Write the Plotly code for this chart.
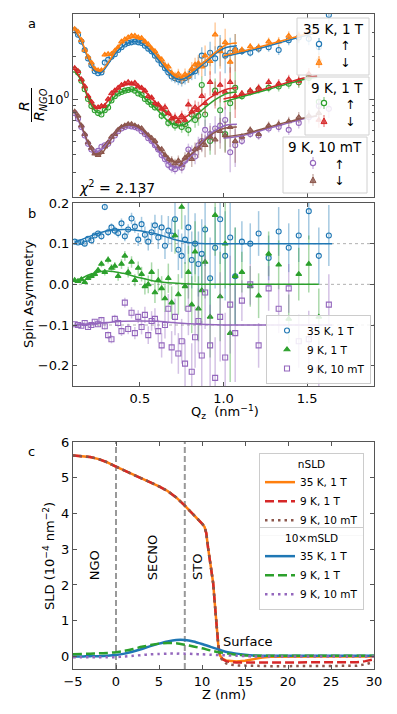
import math
import plotly.graph_objects as go

# ---------------- data: panel a (reflectivity normalised to NGO) ----------------
q_refl = [0.11, 0.13, 0.15, 0.17, 0.19, 0.21, 0.23, 0.25, 0.27, 0.29,
          0.31, 0.33, 0.35, 0.37, 0.39, 0.41, 0.43, 0.45, 0.47, 0.49,
          0.51, 0.53, 0.55, 0.57, 0.59, 0.61, 0.63, 0.65, 0.67, 0.69,
          0.71, 0.73, 0.75, 0.77, 0.79, 0.81, 0.83, 0.85, 0.87, 0.89,
          0.92, 0.95, 0.98, 1.01, 1.04, 1.07,
          1.11, 1.16, 1.21, 1.27, 1.33, 1.39, 1.45, 1.51, 1.57, 1.63]

refl_35K_up = [3.09, 2.88, 2.57, 2.24, 1.95, 1.74, 1.58, 1.53, 1.55, 1.82,
               1.91, 2.00, 2.09, 2.24, 2.34, 2.45, 2.51, 2.54, 2.57, 2.54,
               2.51, 2.40, 2.29, 2.19, 2.04, 1.91, 1.78, 1.66, 1.55, 1.45,
               1.41, 1.38, 1.35, 1.41, 1.45, 1.55, 1.58, 1.74, 2.04, 1.78,
               2.14, 1.95, 2.29, 2.04, 2.14, 2.24,
               2.19, 2.14, 2.29, 2.34, 2.24, 2.63, 2.75, 2.69, 2.34, 3.98]
refl_35K_dn = [3.16, 3.02, 2.63, 2.24, 2.00, 1.82, 1.64, 1.60, 1.60, 2.07,
               2.09, 2.09, 2.21, 2.34, 2.57, 2.66, 2.75, 2.82, 2.82, 2.75,
               2.72, 2.57, 2.45, 2.29, 2.19, 2.00, 1.91, 1.74, 1.70, 1.53,
               1.45, 1.51, 1.40, 1.50, 1.45, 1.64, 1.76, 1.80, 1.70, 2.04,
               1.86, 2.88, 2.19, 2.54, 1.84, 2.24,
               2.24, 2.37, 2.34, 2.57, 2.57, 2.82, 2.82, 2.95, 1.91, None]
refl_9K1T_up = [1.62, 1.55, 1.35, 1.175, 1.0, 0.891, 0.832, 0.794, 0.776, 0.832,
                0.871, 0.977, 1.047, 1.096, 1.122, 1.148, 1.161, 1.175, 1.148, 1.096,
                1.072, 1.0, 0.955, 0.912, 0.871, 0.871, 0.759, 0.794, 0.676, 0.692,
                0.646, 0.676, 0.631, 0.661, 0.603, 0.776, 0.708, 0.759, 1.259, 0.776,
                0.501, 1.148, 0.832, 0.562, 0.933, 1.202,
                1.047, 1.122, 1.175, 1.202, 1.23, 1.288, 1.318, 1.413, 0.955, None]
refl_9K1T_dn = [1.66, 1.58, 1.38, 1.23, 1.05, 0.955, 0.871, 0.871, 0.891, 0.891,
                1.0, 1.096, 1.148, 1.202, 1.259, 1.288, 1.318, 1.288, 1.303, 1.23,
                1.202, 1.148, 1.047, 1.023, 0.933, 0.912, 0.851, 0.871, 0.794, 0.724,
                0.741, 0.692, 0.759, 0.708, 0.912, 0.813, 0.871, 0.832, 1.047, 0.933,
                1.318, 1.096, 1.259, 1.122, 1.318, 1.047,
                1.096, 1.148, 1.202, 1.318, 1.288, 1.38, 1.349, 1.514, 0.708, None]
refl_9K10mT_up = [0.794, 0.724, 0.631, 0.550, 0.479, 0.437, 0.417, 0.427, 0.457, 0.468,
                  0.479, 0.513, 0.550, 0.589, 0.617, 0.631, 0.646, 0.638, 0.631, 0.617,
                  0.589, 0.562, 0.525, 0.501, 0.468, 0.437, 0.398, 0.372, 0.339, 0.324,
                  0.316, 0.339, 0.324, 0.363, 0.437, 0.417, 0.389, 0.468, 0.501, 0.603,
                  0.562, 0.617, 0.646, 0.708, 0.417, 0.468,
                  0.501, 0.562, 0.550, 0.617, 0.631, 0.603, 0.676, 0.741, 0.891, 0.851]
refl_9K10mT_dn = [0.813, 0.759, 0.646, 0.562, 0.490, 0.447, 0.407, 0.398, 0.417, 0.457,
                  0.490, 0.537, 0.562, 0.603, 0.631, 0.646, 0.661, 0.661, 0.646, 0.631,
                  0.617, 0.575, 0.550, 0.525, 0.501, 0.447, 0.437, 0.398, 0.372, 0.363,
                  0.347, 0.363, 0.339, 0.380, 0.398, 0.372, 0.437, 0.447, 0.490, 0.468,
                  0.537, 0.513, 0.589, 0.550, 0.631, 0.501,
                  0.537, 0.603, 0.562, 0.646, 0.661, 0.692, 0.741, 0.759, 0.794, None]
# relative uncertainty of the reflectivity points
refl_rel_err = [0.02, 0.02, 0.02, 0.02, 0.02, 0.025, 0.025, 0.025, 0.03, 0.03,
                0.03, 0.03, 0.03, 0.03, 0.03, 0.03, 0.03, 0.03, 0.035, 0.035,
                0.04, 0.04, 0.045, 0.05, 0.05, 0.06, 0.06, 0.07, 0.07, 0.08,
                0.08, 0.09, 0.09, 0.10, 0.10, 0.12, 0.12, 0.15, 0.15, 0.18,
                0.20, 0.22, 0.25, 0.25, 0.28, 0.30,
                0.06, 0.06, 0.07, 0.07, 0.08, 0.08, 0.09, 0.10, 0.12, 0.14]

# fitted curves (two q ranges)
q_fit1 = [0.11, 0.15, 0.19, 0.23, 0.27, 0.31, 0.35, 0.39, 0.43, 0.47, 0.51, 0.55,
          0.59, 0.63, 0.67, 0.71, 0.75, 0.79, 0.83, 0.87, 0.92, 0.97, 1.02, 1.08]
q_fit2 = [1.0, 1.12, 1.24, 1.36, 1.48, 1.56]
fit1_35K_up = [3.09, 2.57, 1.95, 1.58, 1.55, 1.78, 2.09, 2.34, 2.51, 2.57, 2.51, 2.29,
               2.04, 1.78, 1.55, 1.41, 1.38, 1.45, 1.58, 1.74, 1.95, 2.19, 2.34, 2.40]
fit2_35K_up = [2.00, 2.16, 2.34, 2.57, 2.82, 2.95]
fit1_35K_dn = [3.16, 2.63, 2.00, 1.64, 1.60, 1.82, 2.16, 2.51, 2.69, 2.75, 2.69, 2.43,
               2.14, 1.86, 1.62, 1.48, 1.44, 1.51, 1.64, 1.78, 2.00, 2.24, 2.45, 2.51]
fit2_35K_dn = [2.04, 2.21, 2.40, 2.63, 2.88, 3.02]
fit1_9K1T_up = [1.60, 1.35, 1.012, 0.832, 0.794, 0.891, 1.047, 1.122, 1.161, 1.161, 1.072, 0.955,
                0.871, 0.776, 0.692, 0.653, 0.646, 0.684, 0.750, 0.832, 0.933, 1.023, 1.096, 1.122]
fit2_9K1T_up = [0.955, 1.047, 1.148, 1.259, 1.38, 1.429]
fit1_9K1T_dn = [1.62, 1.38, 1.047, 0.871, 0.871, 0.977, 1.122, 1.23, 1.274, 1.259, 1.189, 1.072,
                0.955, 0.851, 0.776, 0.733, 0.724, 0.767, 0.832, 0.912, 1.023, 1.109, 1.175, 1.202]
fit2_9K1T_dn = [1.0, 1.072, 1.175, 1.288, 1.413, 1.462]
fit1_9K10mT_up = [0.794, 0.631, 0.479, 0.417, 0.437, 0.490, 0.562, 0.617, 0.646, 0.631, 0.589, 0.525,
                  0.457, 0.398, 0.347, 0.324, 0.331, 0.372, 0.427, 0.490, 0.562, 0.617, 0.653, 0.661]
fit2_9K10mT_up = [0.525, 0.550, 0.603, 0.661, 0.724, 0.759]
fit1_9K10mT_dn = [0.813, 0.646, 0.490, 0.407, 0.407, 0.479, 0.562, 0.631, 0.653, 0.646, 0.610, 0.550,
                  0.490, 0.427, 0.380, 0.355, 0.359, 0.389, 0.427, 0.479, 0.550, 0.596, 0.624, 0.631]
fit2_9K10mT_dn = [0.537, 0.562, 0.617, 0.676, 0.733, 0.759]

# ---------------- data: panel b (spin asymmetry, offset by 0.1) ----------------
sa_35K = [0.105, 0.103, 0.104, 0.100, 0.112, 0.108, 0.120, 0.125, 0.118, 0.190,
          0.128, 0.140, 0.132, 0.126, 0.150, 0.118, 0.135, 0.162, 0.142, 0.110,
          0.148, 0.122, 0.105, 0.128, 0.145, 0.115, 0.140, 0.095, 0.132, 0.120,
          0.160, 0.085, 0.070, 0.110, 0.140, 0.060, 0.100, 0.050, 0.075, 0.135,
          0.015, 0.090, 0.160, 0.070, 0.115, 0.020,
          0.105, 0.100, 0.125, 0.065, 0.130, 0.090, 0.120, 0.180, 0.070, 0.120]
sa_9K1T = [0.010, 0.008, 0.012, 0.005, 0.015, 0.020, 0.025, 0.035, 0.050, 0.030,
           0.060, 0.040, 0.045, 0.020, 0.050, 0.070, 0.030, 0.055, 0.010, 0.040,
           0.025, -0.005, 0.000, 0.030, -0.020, 0.010, -0.010, -0.035, 0.015, -0.045,
           0.120, -0.025, 0.190, -0.005, 0.030, -0.050, 0.080, -0.060, -0.015, 0.055,
           -0.080, 0.170, -0.030, 0.100, -0.120, 0.020,
           0.030, -0.005, -0.028, 0.075, 0.048, -0.085, 0.025, 0.050, -0.080, None]
sa_9K10mT = [-0.098, -0.100, -0.102, -0.095, -0.105, -0.100, -0.092, -0.098, -0.088, -0.103,
             -0.125, -0.135, -0.085, -0.095, -0.115, -0.045, -0.110, -0.070, -0.120, -0.080,
             -0.105, -0.075, -0.125, -0.090, -0.085, -0.115, -0.150, -0.100, -0.060, -0.155,
             -0.080, -0.170, -0.140, -0.195, -0.060, -0.215, -0.130, -0.090, -0.175, -0.020,
             -0.150, -0.230, -0.080, -0.180, -0.050, -0.120,
             -0.040, 0.000, -0.150, -0.010, -0.060, -0.010, -0.140, -0.135, -0.210, -0.050]
sa_err = [0.004, 0.004, 0.005, 0.005, 0.005, 0.006, 0.006, 0.007, 0.008, 0.008,
          0.009, 0.010, 0.010, 0.011, 0.012, 0.012, 0.013, 0.014, 0.015, 0.016,
          0.018, 0.020, 0.022, 0.024, 0.026, 0.028, 0.030, 0.033, 0.036, 0.040,
          0.045, 0.050, 0.055, 0.060, 0.065, 0.070, 0.075, 0.080, 0.085, 0.090,
          0.10, 0.10, 0.11, 0.11, 0.12, 0.12,
          0.05, 0.05, 0.055, 0.055, 0.06, 0.06, 0.065, 0.07, 0.07, 0.075]
q_safit = [0.11, 0.2, 0.3, 0.4, 0.5, 0.6, 0.7, 0.8, 0.9, 1.0, 1.2, 1.4, 1.65]
q_safit_g = [0.11, 0.2, 0.3, 0.4, 0.5, 0.6, 0.7, 0.8, 0.9, 1.0, 1.2, 1.4, 1.57]
safit_35K = [0.103, 0.118, 0.131, 0.135, 0.132, 0.124, 0.111, 0.102, 0.100, 0.100, 0.100, 0.100, 0.100]
safit_9K1T = [0.005, 0.024, 0.033, 0.027, 0.016, 0.007, 0.003, 0.001, 0.0, 0.0, 0.0, 0.0, 0.0]
safit_9K10mT = [-0.100, -0.097, -0.094, -0.091, -0.090, -0.091, -0.094, -0.097, -0.099, -0.100, -0.100, -0.100, -0.100]
sa_offsets = [0.1, 0.0, -0.1]

# ---------------- data: panel c (SLD depth profiles) ----------------
z_n = [-5, -4, -3, -2, -1, 0, 1, 2, 3, 4, 5, 6, 7, 8, 9, 9.5, 10, 10.3, 10.5, 10.7,
       11.0, 11.3, 11.5, 11.7, 11.9, 12.1, 12.4, 12.8, 13.3, 14, 15, 16, 17, 18, 20,
       22, 24, 26, 28, 29, 30]
nsld_35K = [5.62, 5.61, 5.58, 5.52, 5.43, 5.31, 5.20, 5.09, 4.98, 4.88, 4.76, 4.63, 4.45, 4.22, 3.98,
            3.85, 3.72, 3.62, 3.45, 3.05, 2.50, 2.05, 1.45, 0.75, 0.30, 0.03, -0.07, -0.11, -0.13, -0.14,
            -0.12, -0.07, -0.03, -0.01, 0.0, 0.0, 0.0, 0.0, 0.0, 0.0, 0.0]
nsld_9K1T = [5.62, 5.61, 5.58, 5.52, 5.43, 5.31, 5.20, 5.09, 4.98, 4.88, 4.76, 4.63, 4.45, 4.22, 3.98,
             3.85, 3.72, 3.62, 3.45, 3.05, 2.50, 2.05, 1.45, 0.75, 0.30, 0.02, -0.08, -0.13, -0.16, -0.17,
             -0.17, -0.17, -0.17, -0.17, -0.17, -0.17, -0.17, -0.17, -0.16, -0.13, -0.08]
nsld_9K10mT = [5.62, 5.61, 5.58, 5.52, 5.43, 5.31, 5.20, 5.09, 4.98, 4.88, 4.76, 4.63, 4.45, 4.22, 3.98,
               3.85, 3.72, 3.62, 3.45, 3.05, 2.50, 2.05, 1.45, 0.75, 0.30, 0.0, -0.12, -0.19, -0.23, -0.25,
               -0.26, -0.27, -0.27, -0.27, -0.27, -0.27, -0.27, -0.27, -0.26, -0.22, -0.15]
z_m = [-5, -4, -3, -2, -1, 0, 1, 2, 3, 4, 5, 6, 7, 8, 9, 10, 11, 12, 13, 14, 15, 16, 18, 20, 25, 30]
msld_35K = [0.0, 0.0, 0.01, 0.01, 0.02, 0.04, 0.08, 0.14, 0.21, 0.29, 0.36, 0.42, 0.46, 0.46, 0.42,
            0.35, 0.27, 0.19, 0.12, 0.08, 0.05, 0.03, 0.02, 0.02, 0.02, 0.02]
msld_9K1T = [0.06, 0.07, 0.08, 0.09, 0.10, 0.12, 0.16, 0.21, 0.27, 0.32, 0.36, 0.38, 0.37, 0.33, 0.28,
             0.23, 0.17, 0.12, 0.08, 0.05, 0.03, 0.02, 0.02, 0.02, 0.02, 0.02]
msld_9K10mT = [-0.02, -0.02, -0.02, -0.02, -0.02, -0.02, 0.0, 0.02, 0.04, 0.06, 0.07, 0.08, 0.08, 0.08, 0.07,
               0.06, 0.05, 0.04, 0.03, 0.02, 0.01, 0.0, 0.0, 0.0, 0.0, 0.0]
layer_bounds = [0, 8]
layer_labels = ["NGO", "SECNO", "STO"]
layer_label_z = [-2.55, 4.2, 9.4]

labels = ["35 K, 1 T", "9 K, 1 T", "9 K, 10 mT"]
spin_labels = ["\u2191", "\u2193"]

# ---------------- styling ----------------
W, H = 397, 714
FONT = "DejaVu Sans"
C = dict(blue="#1f77b4", orange="#ff7f0e", green="#2ca02c", red="#d62728",
         purple="#9467bd", brown="#8c564b", grey="#999999")


def rgba(hexc, a):
    h = hexc.lstrip("#")
    return "rgba(%d,%d,%d,%.2f)" % (int(h[0:2], 16), int(h[2:4], 16), int(h[4:6], 16), a)


def px(xp):
    return xp / W


def py(yp):
    return 1 - yp / H


fig = go.Figure()

# ---- panel a data ----
refl_sets = [
    (refl_35K_up, C["blue"], "circle-open", labels[0] + " " + spin_labels[0]),
    (refl_35K_dn, C["orange"], "triangle-up", labels[0] + " " + spin_labels[1]),
    (refl_9K1T_up, C["green"], "circle-open", labels[1] + " " + spin_labels[0]),
    (refl_9K1T_dn, C["red"], "triangle-up", labels[1] + " " + spin_labels[1]),
    (refl_9K10mT_up, C["purple"], "circle-open", labels[2] + " " + spin_labels[0]),
    (refl_9K10mT_dn, C["brown"], "triangle-up", labels[2] + " " + spin_labels[1]),
]
for vals, col, sym, nm in refl_sets:
    err = [None if v is None else v * r for v, r in zip(vals, refl_rel_err)]
    fig.add_trace(go.Scatter(
        x=q_refl, y=vals, mode="markers", name=nm, showlegend=False,
        marker=dict(symbol=sym, size=5, color=col if "open" in sym else rgba(col, 0.75),
                    line=dict(color=col, width=1.1)),
        error_y=dict(type="data", array=err, color=rgba(col, 0.4), thickness=1.5, width=0),
        xaxis="x", yaxis="y"))

fits = [
    (fit1_35K_up, fit2_35K_up, C["blue"]),
    (fit1_35K_dn, fit2_35K_dn, C["orange"]),
    (fit1_9K1T_up, fit2_9K1T_up, C["green"]),
    (fit1_9K1T_dn, fit2_9K1T_dn, C["red"]),
    (fit1_9K10mT_up, fit2_9K10mT_up, C["purple"]),
    (fit1_9K10mT_dn, fit2_9K10mT_dn, C["brown"]),
]
for f1, f2, col in fits:
    for qq, ff in ((q_fit1, f1), (q_fit2, f2)):
        fig.add_trace(go.Scatter(x=qq, y=ff, mode="lines", showlegend=False,
                                 line=dict(color=col, width=1.5, shape="spline", smoothing=0.8),
                                 hoverinfo="skip", xaxis="x", yaxis="y"))

# ---- panel b ----
sa_sets = [
    (sa_35K, C["blue"], "circle-open", labels[0]),
    (sa_9K1T, C["green"], "triangle-up", labels[1]),
    (sa_9K10mT, C["purple"], "square-open", labels[2]),
]
for vals, col, sym, nm in sa_sets:
    fig.add_trace(go.Scatter(
        x=q_refl, y=vals, mode="markers", name=nm, legend="legend",
        marker=dict(symbol=sym, size=5, color=col, line=dict(color=col, width=1.1)),
        error_y=dict(type="data", array=sa_err, color=rgba(col, 0.4), thickness=1.5, width=0),
        xaxis="x2", yaxis="y2"))
for qq, ff, col in ((q_safit, safit_35K, C["blue"]), (q_safit_g, safit_9K1T, C["green"]),
                    (q_safit, safit_9K10mT, C["purple"])):
    fig.add_trace(go.Scatter(x=qq, y=ff, mode="lines", showlegend=False,
                             line=dict(color=col, width=1.5, shape="spline", smoothing=0.8),
                             hoverinfo="skip", xaxis="x2", yaxis="y2"))

# ---- panel c ----
for yy, col, dash, nm in ((nsld_35K, C["orange"], "solid", labels[0]),
                          (nsld_9K1T, C["red"], "9px,4px", labels[1]),
                          (nsld_9K10mT, C["brown"], "2.5px,4px", labels[2])):
    fig.add_trace(go.Scatter(x=z_n, y=yy, mode="lines", name=nm, legend="legend2",
                             line=dict(color=col, width=2.5, dash=dash),
                             xaxis="x3", yaxis="y3"))
for yy, col, dash, nm in ((msld_35K, C["blue"], "solid", labels[0]),
                          (msld_9K1T, C["green"], "9px,4px", labels[1]),
                          (msld_9K10mT, C["purple"], "2.5px,4px", labels[2])):
    fig.add_trace(go.Scatter(x=z_m, y=yy, mode="lines", name=nm, legend="legend3",
                             line=dict(color=col, width=2.5, dash=dash, shape="spline", smoothing=0.6),
                             xaxis="x3", yaxis="y3"))

# ---------------- layout ----------------
AX = dict(showline=True, linecolor="#555555", linewidth=1, mirror="allticks",
          ticks="inside", tickcolor="#555555", ticklen=4, tickwidth=1,
          showgrid=False, zeroline=False, automargin=False,
          tickfont=dict(family=FONT, size=13, color="black"))
XD = [px(73), px(374)]

shapes = []
for yv in sa_offsets:
    shapes.append(dict(type="line", xref="x2 domain", yref="y2", x0=0, x1=1, y0=yv, y1=yv,
                       line=dict(color="#b0b0b0", width=1, dash="dot"), layer="below"))
for zb in layer_bounds:
    shapes.append(dict(type="line", xref="x3", yref="y3 domain", x0=zb, x1=zb, y0=0, y1=1,
                       line=dict(color="#999999", width=2, dash="6px,3px"), layer="below"))
# fraction bar of the panel a y label
shapes.append(dict(type="line", xref="paper", yref="paper", x0=px(31.5), x1=px(31.5),
                   y0=py(122), y1=py(88), line=dict(color="black", width=1)))

ann = []


def add_text(text, x, y, size=13, angle=0, xa="center", ya="middle", xref="paper", yref="paper"):
    ann.append(dict(text=text, x=x, y=y, xref=xref, yref=yref, showarrow=False,
                    textangle=angle, xanchor=xa, yanchor=ya,
                    font=dict(family=FONT, size=size, color="black")))


# panel a legend boxes (title + spin-up / spin-down keys), drawn as decorations
a_legends = [
    (labels[0], (297, 18, 369, 75), (333, 29), 319, 345, (44, 62), (C["blue"], C["orange"])),
    (labels[1], (305, 77, 369, 135), (337, 88), 324, 350, (103, 121), (C["green"], C["red"])),
    (labels[2], (283, 137, 367, 193), (325, 147), 313, 339, (163, 180), (C["purple"], C["brown"])),
]
for title, (x0, y0, x1, y1), (tx, ty), mx, ax_, (yu, yd), (cu, cd) in a_legends:
    shapes.append(dict(type="rect", xref="paper", yref="paper", x0=px(x0), x1=px(x1),
                       y0=py(y1), y1=py(y0), line=dict(color="#d0d0d0", width=1),
                       fillcolor="rgba(255,255,255,0.85)"))
    add_text(title, px(tx), py(ty), 13.5)
    for yy, col, kind, lab, dy in ((yu, cu, "circle", spin_labels[0], 1.5),
                                    (yd, cd, "tri", spin_labels[1], 0.5)):
        shapes.append(dict(type="line", xref="paper", yref="paper", x0=px(mx), x1=px(mx),
                           y0=py(yy + 6), y1=py(yy - 6), line=dict(color=rgba(col, 0.45), width=1.5)))
        if kind == "circle":
            shapes.append(dict(type="circle", xref="paper", yref="paper",
                               x0=px(mx - 2.6), x1=px(mx + 2.6), y0=py(yy + 2.6), y1=py(yy - 2.6),
                               line=dict(color=col, width=1.2), fillcolor="white"))
        else:
            path = "M %.5f %.5f L %.5f %.5f L %.5f %.5f Z" % (
                px(mx - 3), py(yy + 2.6), px(mx + 3), py(yy + 2.6), px(mx), py(yy - 3))
            shapes.append(dict(type="path", xref="paper", yref="paper", path=path,
                               line=dict(color=col, width=1), fillcolor=rgba(col, 0.75)))
        add_text(lab, px(ax_), py(yy + dy), 12.5)

add_text("a", px(32), py(24), 13)
add_text("b", px(32), py(213), 13)
add_text("c", px(31), py(451), 13)
add_text("<i>R</i>", px(24), py(106), 14, -90)
add_text("<i>R</i><sub><i>NGO</i></sub>", px(40), py(105), 14, -90)
add_text("<i>\u03c7</i><sup>2</sup> = 2.137", px(77), py(187), 14, xa="left")
add_text("Spin Asymmetry", px(28), py(294), 13, -90)
add_text("Q<sub>z</sub>  (nm<sup>\u22121</sup>)", px(225), py(412), 13)
add_text("SLD (10<sup>\u22124</sup> nm<sup>\u22122</sup>)", px(49), py(556), 13, -90)
add_text("Z (nm)", px(224), py(694), 13)
for lab, zl in zip(layer_labels, layer_label_z):
    add_text(lab, zl, 2.08, 13, -90, xa="center", ya="bottom", xref="x3", yref="y3")
add_text("Surface", 15.4, 0.42, 13, xref="x3", yref="y3")


def legend_box(x, y, ya, size, title=None):
    d = dict(x=x, y=y, xanchor="right", yanchor=ya, bgcolor="rgba(255,255,255,0.85)",
             bordercolor="#cccccc", borderwidth=1, traceorder="normal",
             font=dict(family=FONT, size=size, color="black"), itemwidth=30, tracegroupgap=0)
    if title:
        d["title"] = dict(text=title, side="top center", font=dict(family=FONT, size=size, color="black"))
    return d


fig.update_layout(
    width=W, height=H, margin=dict(l=0, r=0, t=0, b=0, pad=0, autoexpand=False),
    paper_bgcolor="white", plot_bgcolor="white",
    font=dict(family=FONT, size=13, color="black"),
    xaxis=dict(AX, domain=XD, anchor="y", range=[0.1, 1.9], tickvals=[0.5, 1.0, 1.5],
               showticklabels=False),
    yaxis=dict(AX, domain=[py(197), py(14)], anchor="x", type="log",
               range=[math.log10(0.2), 0.607], tickmode="array", tickvals=[1],
               ticktext=["10<sup>0</sup>"], ticklen=5,
               minor=dict(tickmode="array", tickvals=[0.2, 0.3, 0.4, 0.5, 0.6, 0.7, 0.8, 0.9, 2, 3, 4],
                          ticks="inside", ticklen=2.5, tickcolor="#555555", showgrid=False)),
    xaxis2=dict(AX, domain=XD, anchor="y2", range=[0.1, 1.9], tickvals=[0.5, 1.0, 1.5],
                tickformat=".1f"),
    yaxis2=dict(AX, domain=[py(386), py(203)], anchor="x2", range=[-0.25, 0.2],
                tickvals=[-0.2, -0.1, 0.0, 0.1, 0.2], tickformat=".1f"),
    xaxis3=dict(AX, domain=XD, anchor="y3", range=[-5, 30], tick0=-5, dtick=5),
    yaxis3=dict(AX, domain=[py(669), py(442)], anchor="x3", range=[-0.35, 6], tick0=0, dtick=1),
    legend=legend_box(px(371), py(384), "bottom", 10.5),
    legend2=legend_box(px(364), py(453), "top", 10.5, "nSLD"),
    legend3=legend_box(px(364), py(527), "top", 10.5, "10\u00d7mSLD"),
    shapes=shapes, annotations=ann, showlegend=True,
)

fig.write_html("out.html", config={"displayModeBar": False},
               post_script="document.body.style.margin='0px';document.body.style.overflow='hidden';")
